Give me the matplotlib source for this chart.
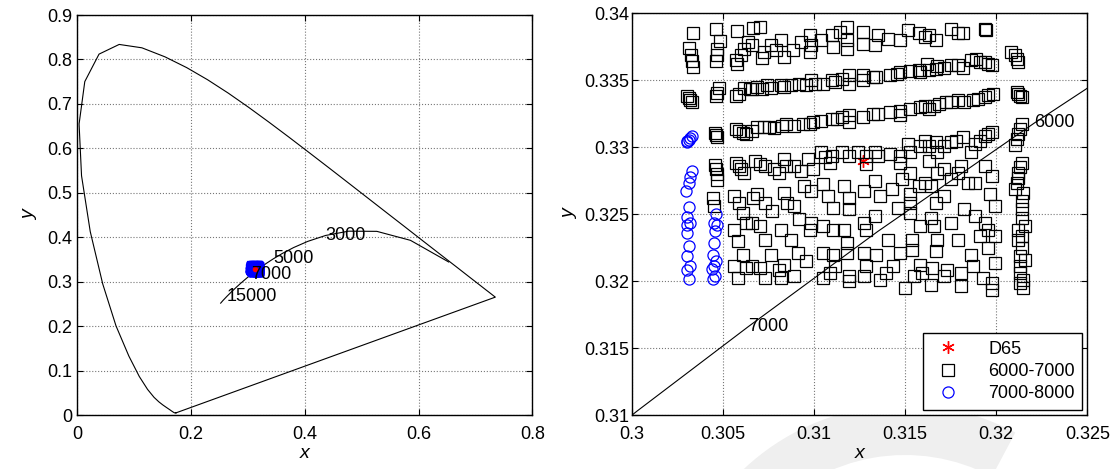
import numpy as np
import matplotlib
matplotlib.use("Agg")
import matplotlib.pyplot as plt
from matplotlib.ticker import FuncFormatter, MultipleLocator
from matplotlib.lines import Line2D
from matplotlib.patches import Wedge

plt.rcParams["font.family"] = ["Liberation Sans", "DejaVu Sans"]
plt.rcParams["font.size"] = 13

# CIE 1931 spectral locus, 380-700 nm in 5 nm steps
locus_x = [0.1741, 0.1740, 0.1738, 0.1736, 0.1733, 0.1730, 0.1726, 0.1721, 0.1714, 0.1703,
           0.1689, 0.1669, 0.1644, 0.1611, 0.1566, 0.1510, 0.1440, 0.1355, 0.1241, 0.1096,
           0.0913, 0.0687, 0.0454, 0.0235, 0.0082, 0.0039, 0.0139, 0.0389, 0.0743, 0.1142,
           0.1547, 0.1929, 0.2296, 0.2658, 0.3016, 0.3373, 0.3731, 0.4087, 0.4441, 0.4788,
           0.5125, 0.5448, 0.5752, 0.6029, 0.6270, 0.6482, 0.6658, 0.6801, 0.6915, 0.7006,
           0.7079, 0.7140, 0.7190, 0.7230, 0.7260, 0.7283, 0.7300, 0.7311, 0.7320, 0.7327,
           0.7334, 0.7340, 0.7344, 0.7346, 0.7347]
locus_y = [0.0050, 0.0050, 0.0049, 0.0049, 0.0048, 0.0048, 0.0048, 0.0048, 0.0051, 0.0058,
           0.0069, 0.0086, 0.0109, 0.0138, 0.0177, 0.0227, 0.0297, 0.0399, 0.0578, 0.0868,
           0.1327, 0.2007, 0.2950, 0.4127, 0.5384, 0.6548, 0.7502, 0.8120, 0.8338, 0.8262,
           0.8059, 0.7816, 0.7543, 0.7243, 0.6923, 0.6589, 0.6245, 0.5896, 0.5547, 0.5202,
           0.4866, 0.4544, 0.4242, 0.3965, 0.3725, 0.3514, 0.3340, 0.3197, 0.3083, 0.2993,
           0.2920, 0.2859, 0.2809, 0.2770, 0.2740, 0.2717, 0.2700, 0.2689, 0.2680, 0.2673,
           0.2666, 0.2660, 0.2656, 0.2654, 0.2653]

# Planckian locus
cct = [1000, 1500, 2000, 2500, 3000, 3500, 4000, 4500, 5000, 5500, 6000,
       6500, 7000, 7500, 8000, 9000, 10000, 12000, 15000, 20000, 25000]
planck_x = [0.6528, 0.5857, 0.5267, 0.4770, 0.4369, 0.4053, 0.3805, 0.3608, 0.3451, 0.3325, 0.3221,
            0.3135, 0.3064, 0.3003, 0.2952, 0.2869, 0.2807, 0.2719, 0.2637, 0.2565, 0.2525]
planck_y = [0.3444, 0.3931, 0.4133, 0.4137, 0.4041, 0.3907, 0.3768, 0.3636, 0.3516, 0.3411, 0.3318,
            0.3237, 0.3166, 0.3103, 0.3048, 0.2956, 0.2884, 0.2778, 0.2674, 0.2577, 0.2518]
labels_left = [3000, 5000, 7000, 15000]
labels_right = [6000, 7000]

d65 = (0.3127, 0.3290)

# 6000-7000 K samples
sq_band1 = [
    (0.30336, 0.33855), (0.30317, 0.3374), (0.30325, 0.33685), (0.3033, 0.3364), (0.30336, 0.33598),
    (0.30461, 0.33885), (0.30483, 0.3379), (0.3047, 0.33735), (0.30466, 0.33685), (0.30461, 0.3364),
    (0.30578, 0.3387), (0.30637, 0.33785), (0.30619, 0.33735), (0.306, 0.3369), (0.30572, 0.3365),
    (0.30578, 0.3362), (0.30665, 0.3389), (0.30702, 0.33898), (0.30659, 0.3376), (0.30724, 0.3371),
    (0.30715, 0.33665), (0.30762, 0.3376), (0.30818, 0.33798), (0.3079, 0.33723), (0.30836, 0.33673),
    (0.30883, 0.33723), (0.30929, 0.33785), (0.30981, 0.33835), (0.30985, 0.3376), (0.30976, 0.3371),
    (0.31041, 0.33798), (0.31097, 0.33835), (0.31106, 0.33748), (0.31143, 0.3386), (0.31184, 0.33898),
    (0.31184, 0.33798), (0.31184, 0.33735), (0.31268, 0.3386), (0.31268, 0.33773), (0.31333, 0.33765),
    (0.31351, 0.33835), (0.31407, 0.3381), (0.31472, 0.33798), (0.31519, 0.33873), (0.31575, 0.33848),
    (0.31612, 0.33823), (0.31631, 0.33835), (0.31668, 0.33798), (0.31752, 0.33885), (0.31789, 0.33848),
    (0.31817, 0.33848), (0.31938, 0.33885), (0.31947, 0.33873),
]
sq_band2 = [
    (0.30302, 0.3338), (0.30312, 0.33365), (0.30321, 0.3335), (0.3033, 0.3334), (0.30479, 0.3344),
    (0.3047, 0.33405), (0.30461, 0.33385), (0.30572, 0.3338), (0.30591, 0.33398), (0.30615, 0.3344),
    (0.30647, 0.33435), (0.30659, 0.33435), (0.30687, 0.33448), (0.30715, 0.33435), (0.30743, 0.3346),
    (0.30762, 0.3344), (0.30818, 0.33465), (0.30836, 0.33448), (0.30873, 0.3346), (0.3092, 0.33473),
    (0.30957, 0.33465), (0.30985, 0.33498), (0.31004, 0.33473), (0.3105, 0.33473), (0.31097, 0.33498),
    (0.31116, 0.33485), (0.31156, 0.3351), (0.31193, 0.33535), (0.31193, 0.33473), (0.31268, 0.33535),
    (0.31268, 0.33498), (0.31324, 0.33523), (0.31342, 0.33523), (0.31417, 0.33535), (0.31454, 0.33548),
    (0.31472, 0.3356), (0.31528, 0.33565), (0.31575, 0.33573), (0.31584, 0.3356), (0.31621, 0.33623),
    (0.31631, 0.33573), (0.31668, 0.33585), (0.31677, 0.33605), (0.31715, 0.3359), (0.31752, 0.3361),
    (0.31789, 0.3361), (0.31817, 0.3359), (0.31864, 0.33648), (0.31892, 0.3366), (0.3191, 0.33635),
    (0.31938, 0.33635), (0.31957, 0.33623), (0.31975, 0.3361),
]
sq_band3 = [
    (0.30455, 0.33105), (0.30461, 0.3309), (0.30466, 0.33075), (0.30572, 0.33135), (0.30591, 0.3312),
    (0.3061, 0.33105), (0.30628, 0.33098), (0.30659, 0.33123), (0.30687, 0.33148), (0.30724, 0.33148),
    (0.30752, 0.33148), (0.3078, 0.3314), (0.30827, 0.3316), (0.30846, 0.33173), (0.30892, 0.3316),
    (0.30939, 0.33173), (0.30976, 0.33173), (0.30994, 0.33185), (0.31041, 0.33198), (0.31097, 0.3321),
    (0.31125, 0.3321), (0.31156, 0.33223), (0.31193, 0.3324), (0.31193, 0.33185), (0.31268, 0.33223),
    (0.31324, 0.33248), (0.31351, 0.33248), (0.31417, 0.3326), (0.31472, 0.33273), (0.31472, 0.3324),
    (0.31528, 0.33285), (0.31584, 0.33298), (0.31612, 0.3331), (0.31631, 0.33285), (0.31659, 0.3331),
    (0.31687, 0.3332), (0.31724, 0.33335), (0.31752, 0.3334), (0.31789, 0.33348), (0.31826, 0.33335),
    (0.31873, 0.33348), (0.31901, 0.3336), (0.31938, 0.33373), (0.31957, 0.3339), (0.31985, 0.33398),
]
sq_band4 = [
    (0.30455, 0.32865), (0.30461, 0.32835), (0.30466, 0.32798), (0.3047, 0.32755), (0.30572, 0.32885),
    (0.30591, 0.3286), (0.30619, 0.3281), (0.306, 0.32835), (0.30678, 0.32898), (0.30706, 0.32873),
    (0.30734, 0.3286), (0.3078, 0.32835), (0.30808, 0.3281), (0.30836, 0.3291), (0.30846, 0.3286),
    (0.30892, 0.3286), (0.30929, 0.32823), (0.30967, 0.3291), (0.30994, 0.32835), (0.31041, 0.3296),
    (0.3106, 0.32923), (0.31097, 0.32935), (0.31088, 0.32885), (0.31156, 0.3296), (0.31193, 0.32935),
    (0.3124, 0.3296), (0.31286, 0.32935), (0.31286, 0.32873), (0.31333, 0.3296), (0.31351, 0.32935),
    (0.31417, 0.32948), (0.31472, 0.32935), (0.31472, 0.32885), (0.31519, 0.33023), (0.31528, 0.3296),
    (0.31584, 0.3301), (0.31612, 0.33048), (0.31631, 0.3301), (0.31668, 0.33035), (0.31677, 0.32965),
    (0.31715, 0.3301), (0.31752, 0.33035), (0.3178, 0.33048), (0.31817, 0.33073), (0.31864, 0.32965),
    (0.31882, 0.33023), (0.3191, 0.33048), (0.31938, 0.33085), (0.31957, 0.33098), (0.31975, 0.3311),
]
sq_lower = [
    (0.30448, 0.32623), (0.30451, 0.3256), (0.30563, 0.32635), (0.30591, 0.32585), (0.3061, 0.3251),
    (0.30563, 0.32385), (0.30582, 0.32298), (0.30628, 0.32435), (0.3061, 0.32198), (0.30563, 0.3211),
    (0.30628, 0.32098), (0.30582, 0.32023), (0.30665, 0.32623), (0.30687, 0.32648), (0.30734, 0.32585),
    (0.30771, 0.32523), (0.30836, 0.3266), (0.30855, 0.32585), (0.30892, 0.3256), (0.30948, 0.3271),
    (0.30985, 0.32673), (0.3105, 0.32723), (0.31078, 0.32635), (0.31106, 0.32548), (0.30659, 0.32435),
    (0.30706, 0.3241), (0.30734, 0.3231), (0.30818, 0.32385), (0.30873, 0.3231), (0.3092, 0.3246),
    (0.30985, 0.32435), (0.30976, 0.32385), (0.3105, 0.3241), (0.31106, 0.32385), (0.30762, 0.32198),
    (0.30836, 0.32123), (0.30911, 0.3221), (0.30957, 0.32148), (0.3105, 0.3221), (0.31106, 0.32198),
    (0.30659, 0.3211), (0.30706, 0.32098), (0.30734, 0.32023), (0.30808, 0.32085), (0.30818, 0.32023),
    (0.30892, 0.32035), (0.3105, 0.32023), (0.31088, 0.3206), (0.31116, 0.3211), (0.31165, 0.3271),
    (0.31193, 0.32623), (0.31193, 0.32535), (0.31277, 0.32673), (0.31333, 0.32748), (0.31361, 0.32635),
    (0.31426, 0.32685), (0.31482, 0.3276), (0.31528, 0.3281), (0.31575, 0.3271), (0.31528, 0.32648),
    (0.31612, 0.32735), (0.31165, 0.32385), (0.31184, 0.32285), (0.31277, 0.32435), (0.31333, 0.32485),
    (0.31286, 0.32385), (0.31407, 0.3231), (0.31463, 0.32548), (0.31528, 0.32585), (0.31528, 0.3251),
    (0.31584, 0.3241), (0.31538, 0.3231), (0.31184, 0.3221), (0.31277, 0.3221), (0.31342, 0.32198),
    (0.31435, 0.3211), (0.31472, 0.3221), (0.31538, 0.32235), (0.31584, 0.32123), (0.31193, 0.32035),
    (0.31193, 0.31998), (0.31286, 0.3211), (0.31277, 0.32035), (0.31361, 0.3201), (0.31398, 0.3206),
    (0.315, 0.31948), (0.31547, 0.32035), (0.31593, 0.3206), (0.31631, 0.32898), (0.31677, 0.3281),
    (0.31715, 0.32835), (0.3164, 0.3271), (0.31668, 0.32585), (0.31715, 0.32635), (0.31752, 0.3276),
    (0.31789, 0.3281), (0.31808, 0.3286), (0.31845, 0.32735), (0.31882, 0.32735), (0.31938, 0.3286),
    (0.31975, 0.32785), (0.31966, 0.32648), (0.31994, 0.3256), (0.3164, 0.32473), (0.31659, 0.3241),
    (0.31752, 0.32435), (0.31826, 0.32535), (0.31882, 0.32485), (0.31938, 0.32435), (0.31957, 0.32385),
    (0.31994, 0.32335), (0.31677, 0.3231), (0.31668, 0.32223), (0.31789, 0.3231), (0.31864, 0.32198),
    (0.3191, 0.32335), (0.31957, 0.32248), (0.31994, 0.32135), (0.3165, 0.32098), (0.31733, 0.32085),
    (0.31808, 0.3206), (0.31873, 0.3211), (0.31929, 0.32023), (0.31975, 0.31985), (0.3164, 0.31973),
    (0.31715, 0.32035), (0.31808, 0.3196), (0.31975, 0.31935),
]
sq_edge = [
    (0.32084, 0.3371), (0.32103, 0.33685), (0.32112, 0.3366), (0.32121, 0.33635),
    (0.32112, 0.3341), (0.32121, 0.33398), (0.32131, 0.33385), (0.3214, 0.33373),
    (0.3214, 0.33173), (0.32131, 0.33135), (0.32121, 0.33098), (0.32112, 0.3306), (0.32103, 0.33015),
    (0.3214, 0.32885), (0.32131, 0.32848), (0.32121, 0.3281), (0.32121, 0.32773), (0.32112, 0.32735),
    (0.32103, 0.32685), (0.32149, 0.3266), (0.3214, 0.32598), (0.3214, 0.32535), (0.3214, 0.32473),
    (0.32159, 0.3241), (0.32121, 0.32385), (0.3214, 0.32335), (0.32121, 0.3231), (0.3214, 0.32248),
    (0.32131, 0.32185), (0.32159, 0.3216), (0.32131, 0.3211), (0.32131, 0.3206), (0.32149, 0.3201),
    (0.32131, 0.31985), (0.32149, 0.31948),
]

# 7000-8000 K samples
circ_pts = [
    (0.30302, 0.33035), (0.30306, 0.33045), (0.30312, 0.33055), (0.30321, 0.33065), (0.3033, 0.3308),
    (0.3033, 0.32818), (0.30321, 0.32778), (0.30312, 0.32735), (0.30299, 0.32673), (0.30312, 0.32555),
    (0.30302, 0.3248), (0.30321, 0.32435), (0.30306, 0.32415), (0.30306, 0.3236), (0.30312, 0.32265),
    (0.30306, 0.32185), (0.30321, 0.3211), (0.30306, 0.32085), (0.30312, 0.32015),
    (0.30461, 0.32498), (0.30466, 0.32415), (0.30451, 0.32435), (0.30455, 0.32373), (0.30451, 0.32285),
    (0.30448, 0.32198), (0.30461, 0.32148), (0.30451, 0.3211), (0.30442, 0.3209), (0.30455, 0.32035),
    (0.30448, 0.32015),
]

squares = np.array(sq_band1 + sq_band2 + sq_band3 + sq_band4 + sq_lower + sq_edge)
circles = np.array(circ_pts)


def gfmt(v, pos):
    return f"{v:g}"


def matlab_style(ax, ypad=3.5):
    ax.tick_params(direction="in", top=True, right=True, length=4, width=0.8, labelsize=13)
    ax.tick_params(axis="x", pad=8)
    ax.tick_params(axis="y", pad=ypad)
    for s in ax.spines.values():
        s.set_linewidth(1.0)
    ax.grid(True, linestyle=":", color="#777777", linewidth=0.8)
    ax.set_axisbelow(True)
    ax.xaxis.set_major_formatter(FuncFormatter(gfmt))
    ax.yaxis.set_major_formatter(FuncFormatter(gfmt))


fig = plt.figure(figsize=(11.14, 4.69), dpi=100)

# faint background mark behind the right panel
fig.patches.append(Wedge((9.05, -1.71), 2.35, 62, 138, width=0.5, transform=fig.dpi_scale_trans,
                         facecolor="#efefef", edgecolor="none", zorder=-1))

# left: full chromaticity diagram
ax1 = fig.add_axes([0.069, 0.115, 0.409, 0.853])
lx = locus_x + [locus_x[0]]
ly = locus_y + [locus_y[0]]
ax1.plot(lx, ly, color="black", linewidth=0.8)
ax1.plot(planck_x, planck_y, color="black", linewidth=0.8)
for t in labels_left:
    i = cct.index(t)
    ax1.text(planck_x[i], planck_y[i], str(t), ha="left", va="center", fontsize=13)
ax1.plot(squares[:, 0], squares[:, 1], "s", color="blue", markersize=4.5)
ax1.plot(circles[:, 0], circles[:, 1], "o", color="blue", markersize=4.5)
ax1.plot(d65[0], d65[1], ".", color="red", markersize=6)
ax1.set_xlim(0, 0.8)
ax1.set_ylim(0, 0.9)
ax1.xaxis.set_major_locator(MultipleLocator(0.2))
ax1.yaxis.set_major_locator(MultipleLocator(0.1))
matlab_style(ax1)
ax1.set_xlabel("x", fontstyle="italic", fontsize=14, labelpad=1)
ax1.set_ylabel("y", fontstyle="italic", fontsize=14, labelpad=6)

# right: close-up around D65
ax2 = fig.add_axes([0.567, 0.115, 0.409, 0.857])
ax2.plot(planck_x, planck_y, color="black", linewidth=0.8)
for t in labels_right:
    i = cct.index(t)
    ax2.text(planck_x[i], planck_y[i], str(t), ha="left", va="center", fontsize=13)
ax2.plot(d65[0], d65[1], marker=(6, 2, 0), color="red", markersize=9, linestyle="none")
ax2.plot(squares[:, 0], squares[:, 1], "s", markerfacecolor="none", markeredgecolor="black",
         markersize=8, markeredgewidth=0.9, linestyle="none")
ax2.plot(circles[:, 0], circles[:, 1], "o", markerfacecolor="none", markeredgecolor="blue",
         markersize=8, markeredgewidth=0.9, linestyle="none")
ax2.set_xlim(0.3, 0.325)
ax2.set_ylim(0.31, 0.34)
ax2.xaxis.set_major_locator(MultipleLocator(0.005))
ax2.yaxis.set_major_locator(MultipleLocator(0.005))
matlab_style(ax2, ypad=2)
ax2.set_xlabel("x", fontstyle="italic", fontsize=14, labelpad=1)
ax2.set_ylabel("y", fontstyle="italic", fontsize=14, labelpad=4)

handles = [
    Line2D([], [], marker=(6, 2, 0), color="red", linestyle="none", markersize=9),
    Line2D([], [], marker="s", markerfacecolor="none", markeredgecolor="black",
           linestyle="none", markersize=8, markeredgewidth=0.9),
    Line2D([], [], marker="o", markerfacecolor="none", markeredgecolor="blue",
           linestyle="none", markersize=8, markeredgewidth=0.9),
]
leg = ax2.legend(handles, ["D65", "6000-7000", "7000-8000"], loc="lower right",
                 fancybox=False, edgecolor="black", framealpha=1, fontsize=13,
                 borderaxespad=0.3, handletextpad=1.2, labelspacing=0.3, borderpad=0.4)
leg.get_frame().set_linewidth(1.0)

fig.savefig("out.png", dpi=100)
